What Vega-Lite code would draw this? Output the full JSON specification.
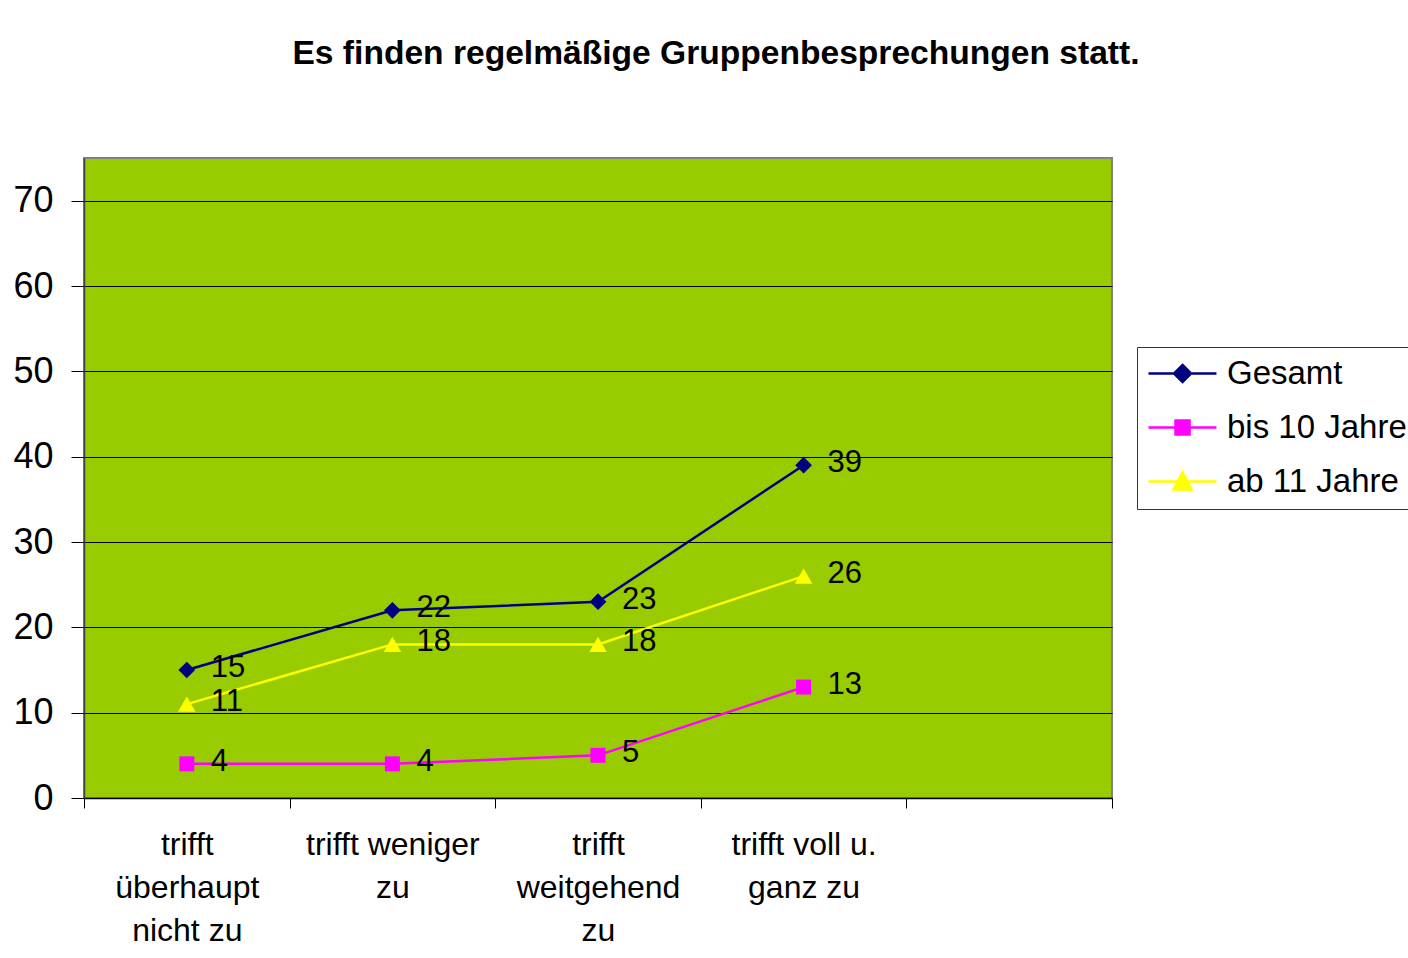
{
  "$schema": "https://vega.github.io/schema/vega-lite/v6.json",
  "width": 1028,
  "height": 640,
  "autosize": {"type": "none"},
  "padding": {"left": 84, "top": 158, "right": 296, "bottom": 160},
  "background": "white",
  "title": {
    "text": "Es finden regelmäßige Gruppenbesprechungen statt.",
    "font": "Liberation Sans",
    "fontSize": 33.6,
    "fontWeight": "bold",
    "color": "black",
    "anchor": "middle",
    "dx": 118,
    "offset": 60,
    "baseline": "alphabetic"
  },
  "data": {
    "values": [
      {"category": "trifft überhaupt nicht zu", "series": "Gesamt", "value": 15},
      {"category": "trifft weniger zu", "series": "Gesamt", "value": 22},
      {"category": "trifft weitgehend zu", "series": "Gesamt", "value": 23},
      {"category": "trifft voll u. ganz zu", "series": "Gesamt", "value": 39},
      {"category": "trifft überhaupt nicht zu", "series": "bis 10 Jahre", "value": 4},
      {"category": "trifft weniger zu", "series": "bis 10 Jahre", "value": 4},
      {"category": "trifft weitgehend zu", "series": "bis 10 Jahre", "value": 5},
      {"category": "trifft voll u. ganz zu", "series": "bis 10 Jahre", "value": 13},
      {"category": "trifft überhaupt nicht zu", "series": "ab 11 Jahre", "value": 11},
      {"category": "trifft weniger zu", "series": "ab 11 Jahre", "value": 18},
      {"category": "trifft weitgehend zu", "series": "ab 11 Jahre", "value": 18},
      {"category": "trifft voll u. ganz zu", "series": "ab 11 Jahre", "value": 26}
    ]
  },
  "encoding": {
    "x": {
      "field": "category",
      "type": "nominal",
      "sort": null,
      "scale": {
        "type": "band",
        "domain": ["trifft überhaupt nicht zu", "trifft weniger zu", "trifft weitgehend zu", "trifft voll u. ganz zu", " "],
        "paddingInner": 0,
        "paddingOuter": 0
      },
      "axis": {
        "title": null,
        "labelAngle": 0,
        "labelFont": "Liberation Sans",
        "labelFontSize": 32,
        "labelColor": "black",
        "labelLineHeight": 43,
        "labelPadding": 21,
        "labelLimit": 400,
        "tickBand": "extent",
        "tickColor": "black",
        "tickSize": 10,
        "tickWidth": 1,
        "domainColor": "black",
        "domainWidth": 1.5,
        "grid": false,
        "labelExpr": "datum.value == 'trifft überhaupt nicht zu' ? ['trifft', 'überhaupt', 'nicht zu'] : datum.value == 'trifft weniger zu' ? ['trifft weniger', 'zu'] : datum.value == 'trifft weitgehend zu' ? ['trifft', 'weitgehend', 'zu'] : datum.value == 'trifft voll u. ganz zu' ? ['trifft voll u.', 'ganz zu'] : ''"
      }
    },
    "y": {
      "field": "value",
      "type": "quantitative",
      "scale": {"domain": [0, 75], "nice": false, "zero": true},
      "axis": {
        "title": null,
        "values": [0, 10, 20, 30, 40, 50, 60, 70],
        "labelFont": "Liberation Sans",
        "labelFontSize": 36,
        "labelColor": "black",
        "labelPadding": 18,
        "tickColor": "black",
        "tickSize": 13,
        "tickWidth": 1,
        "grid": true,
        "gridColor": "black",
        "gridWidth": 1,
        "gridOpacity": 1,
        "domainColor": "#404040",
        "domainWidth": 1.5
      }
    }
  },
  "layer": [
    {
      "mark": {"type": "line", "strokeWidth": 2.5},
      "encoding": {
        "color": {
          "field": "series",
          "type": "nominal",
          "scale": {"domain": ["Gesamt", "bis 10 Jahre", "ab 11 Jahre"], "range": ["#000080", "#FF00FF", "#FFFF00"]},
          "legend": {
            "title": null,
            "orient": "none",
            "legendX": 1053,
            "legendY": 189,
            "strokeColor": "#333333",
            "fillColor": "white",
            "padding": 10,
            "labelFont": "Liberation Sans",
            "labelFontSize": 33,
            "labelColor": "black",
            "labelOffset": 47,
            "labelLimit": 400,
            "symbolSize": 900,
            "symbolStrokeWidth": 2.5,
            "symbolOpacity": 1,
            "rowPadding": 20,
            "encode": {
              "symbols": {
                "update": {
                  "shape": {"signal": "datum.value == 'Gesamt' ? 'M-1,0L3.53,0M1.27,-0.567L1.837,0L1.27,0.567L0.703,0Z' : datum.value == 'bis 10 Jahre' ? 'M-1,0L3.53,0M0.803,-0.467L1.737,-0.467L1.737,0.467L0.803,0.467Z' : 'M-1,0L3.53,0M1.27,-0.6L1.87,0.53L0.67,0.53Z'"},
                  "fill": {"signal": "datum.value == 'Gesamt' ? '#000080' : datum.value == 'bis 10 Jahre' ? '#FF00FF' : '#FFFF00'"},
                  "stroke": {"signal": "datum.value == 'Gesamt' ? '#000080' : datum.value == 'bis 10 Jahre' ? '#FF00FF' : '#FFFF00'"},
                  "strokeWidth": {"value": 2.5},
                  "size": {"value": 900},
                  "opacity": {"value": 1},
                  "fillOpacity": {"value": 1},
                  "strokeOpacity": {"value": 1}
                }
              }
            }
          }
        }
      }
    },
    {
      "transform": [{"filter": "datum.series == 'Gesamt'"}],
      "mark": {"type": "point", "filled": true, "opacity": 1, "size": 280, "shape": "diamond", "color": "#000080"},
      "encoding": {}
    },
    {
      "transform": [{"filter": "datum.series == 'bis 10 Jahre'"}],
      "mark": {"type": "point", "filled": true, "opacity": 1, "size": 225, "shape": "square", "color": "#FF00FF"},
      "encoding": {}
    },
    {
      "transform": [{"filter": "datum.series == 'ab 11 Jahre'"}],
      "mark": {"type": "point", "filled": true, "opacity": 1, "size": 310, "shape": "triangle-up", "color": "#FFFF00"},
      "encoding": {}
    },
    {
      "mark": {"type": "text", "align": "left", "baseline": "middle", "dx": 24, "dy": -2, "font": "Liberation Sans", "fontSize": 31, "color": "black"},
      "encoding": {
        "text": {"field": "value", "type": "quantitative"}
      }
    }
  ],
  "config": {
    "view": {"fill": "#99CC00", "stroke": "#808080", "strokeWidth": 2}
  }
}
